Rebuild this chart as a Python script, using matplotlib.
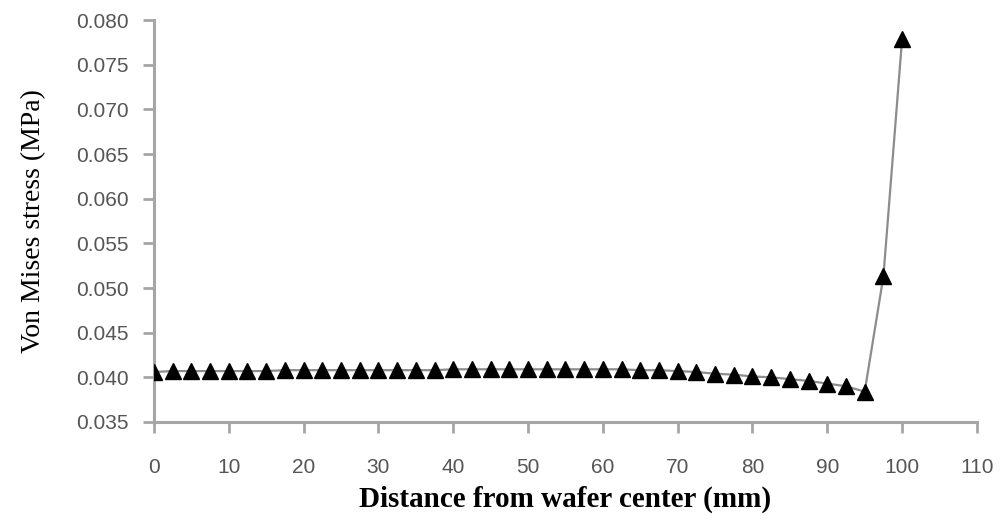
import matplotlib
matplotlib.use("Agg")
import matplotlib.pyplot as plt

# distance from wafer centre (mm) and von Mises stress (MPa)
distance_mm = [0, 2.5, 5, 7.5, 10, 12.5, 15, 17.5, 20, 22.5, 25, 27.5, 30, 32.5,
               35, 37.5, 40, 42.5, 45, 47.5, 50, 52.5, 55, 57.5, 60, 62.5, 65,
               67.5, 70, 72.5, 75, 77.5, 80, 82.5, 85, 87.5, 90, 92.5, 95,
               97.5, 100]
stress_mpa = [0.0406, 0.0407, 0.0407, 0.0407, 0.0407, 0.0407, 0.0407, 0.0408,
              0.0408, 0.0408, 0.0408, 0.0408, 0.0408, 0.0408, 0.0408, 0.0408,
              0.0409, 0.0409, 0.0409, 0.0409, 0.0409, 0.0409, 0.0409, 0.0409,
              0.0409, 0.0409, 0.0408, 0.0408, 0.0407, 0.0406, 0.0404, 0.0403,
              0.0401, 0.0400, 0.0398, 0.0396, 0.0393, 0.0390, 0.0384,
              0.0513, 0.0779]

x_ticks = list(range(0, 111, 10))
y_ticks = [0.035, 0.040, 0.045, 0.050, 0.055, 0.060, 0.065, 0.070, 0.075, 0.080]

fig = plt.figure(figsize=(10.03, 5.29), dpi=100)
ax = fig.add_axes([0.1535, 0.2023, 0.8205, 0.7597])

ax.plot(distance_mm, stress_mpa, color="#8c8c8c", linewidth=1.6,
        marker="^", markersize=12, markerfacecolor="black",
        markeredgecolor="black", zorder=3)

ax.set_xlim(0, 110)
ax.set_ylim(0.035, 0.080)
ax.set_xticks(x_ticks)
ax.set_yticks(y_ticks)
ax.set_yticklabels([f"{v:.3f}" for v in y_ticks])

for side in ("top", "right"):
    ax.spines[side].set_visible(False)
for side in ("left", "bottom"):
    ax.spines[side].set_color("#a6a6a6")
    ax.spines[side].set_linewidth(2.2)

ax.tick_params(axis="both", direction="out", length=8, width=2,
               color="#a6a6a6", labelcolor="#555555", labelsize=15,
               labelfontfamily="Liberation Sans")
ax.tick_params(axis="x", pad=18)
ax.tick_params(axis="y", pad=10)

ax.set_xlabel("Distance from wafer center (mm)", family="Liberation Serif",
              fontsize=21, fontweight="bold", labelpad=6)
ax.set_ylabel("Von Mises stress (MPa)", family="Liberation Serif",
              fontsize=20, labelpad=22)

fig.savefig("out.png", dpi=100)
